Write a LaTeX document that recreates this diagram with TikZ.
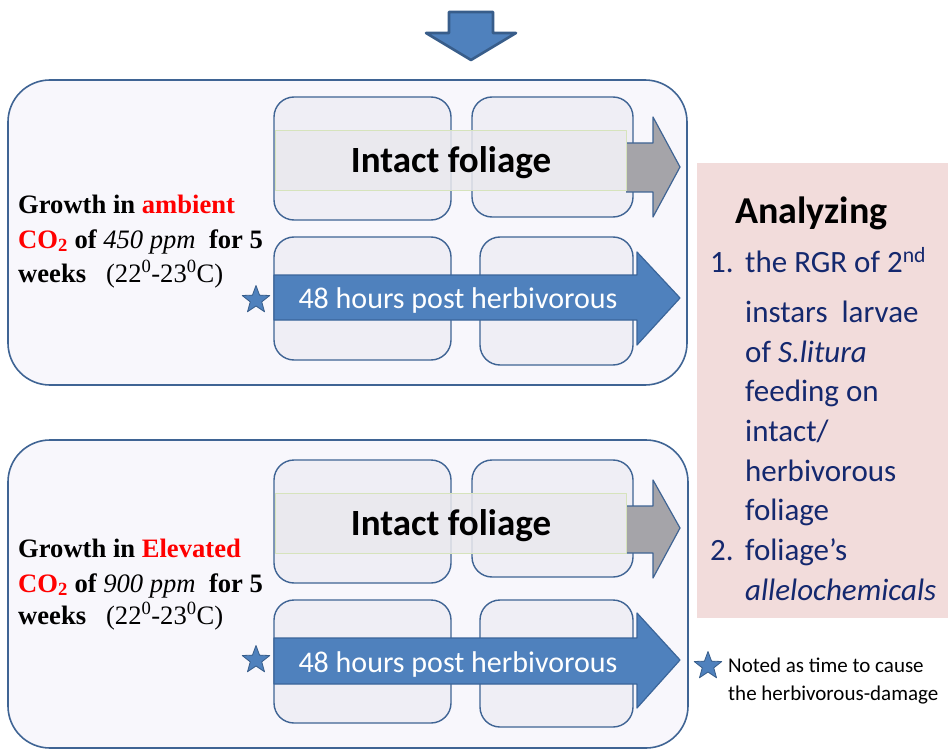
\documentclass[tikz,border=0pt]{standalone}
\usepackage{fontspec}
\setmainfont{Liberation Serif}
\newfontfamily\calibri{Carlito}
\usetikzlibrary{shapes.geometric}

\definecolor{panelline}{HTML}{3F6494}
\definecolor{panelfill}{HTML}{F8F7FC}
\definecolor{cellfill}{HTML}{EFEEF5}
\definecolor{arrowblue}{HTML}{4F81BD}
\definecolor{arrowline}{HTML}{3A659A}
\definecolor{starline}{HTML}{385D8A}
\definecolor{arrowgrey}{HTML}{A5A4A9}
\definecolor{bandfill}{HTML}{EAE9ED}
\definecolor{bandline}{HTML}{D6E3BC}
\definecolor{pinkbox}{HTML}{F2DCDB}
\definecolor{navy}{HTML}{14286E}

\begin{document}
\begin{tikzpicture}[
		x=1pt, y=-1pt,
		line join=round,
		panel/.style={draw=panelline, line width=1.6pt, fill=panelfill, rounded corners=42pt},
		cell/.style={draw=panelline, line width=1.4pt, fill=cellfill, rounded corners=20pt},
		bluearrow/.style={draw=arrowline, line width=1.2pt, fill=arrowblue},
		greyarrow/.style={draw=panelline, line width=1.2pt, fill=arrowgrey},
		band/.style={draw=bandline, fill=bandfill, fill opacity=0.85, line width=0.8pt},
		starmark/.style={star, star points=5, star point ratio=2.4, fill=arrowblue, draw=starline, line width=0.8pt, minimum size=29pt, inner sep=0pt},
		growth/.style={anchor=base west, inner sep=0pt, font=\fontsize{26.6}{35}\selectfont},
		bandtext/.style={anchor=base, inner sep=0pt, font=\calibri\bfseries\fontsize{37}{40}\selectfont},
		arrowtext/.style={anchor=base, inner sep=0pt, text=white, font=\calibri\fontsize{30}{34}\selectfont},
		listline/.style={anchor=base west, inner sep=0pt, text=navy, font=\calibri\fontsize{31}{40}\selectfont},
		legend/.style={anchor=base west, inner sep=0pt, font=\calibri\fontsize{21}{27}\selectfont}
	]
	\useasboundingbox (0,0) rectangle (951,749);

	% Down arrow
	\draw[bluearrow, draw=starline, line width=2.6pt] (449,12) -- (493,12) -- (493,33) -- (516,33)
		-- (471,60) -- (426,33) -- (449,33) -- cycle;

	% Analyzing box
	\fill[pinkbox] (697,163) rectangle (948,618);
	\node[anchor=base west, inner sep=0pt, font=\calibri\bfseries\fontsize{38}{44}\selectfont] (anlz) at (735,223) {Analyzing};
	\node[listline] (num1) at (710,272) {1.};
	\node[listline] (ln1) at (745,272) {the RGR of 2\textsuperscript{nd}};
	\node[listline] (ln2) at (745,322) {instars\ \ larvae};
	\node[listline] (ln3) at (745,362) {of \textit{S.litura}};
	\node[listline] (ln4) at (745,401) {feeding on};
	\node[listline] (ln5) at (745,441) {intact/};
	\node[listline] (ln6) at (745,481) {herbivorous};
	\node[listline] (ln7) at (745,520) {foliage};
	\node[listline] (num2) at (710,560) {2.};
	\node[listline] (ln8) at (745,560) {foliage’s};
	\node[listline] (ln9) at (745,600) {\textit{allelochemicals}};

	% Panels
	\draw[panel] (8,80) rectangle (687,385);
	\draw[panel] (8,440) rectangle (688,748);

	% Ambient CO2
	\node[growth] (amb1) at (18,213) {\bfseries Growth in \textcolor{red}{ambient}};
	\node[growth] (amb2) at (18,248) {\bfseries\textcolor{red}{CO\textsubscript{2}} of \mdseries\textit{450 ppm}\ \ \bfseries for 5};
	\node[growth] (amb3) at (18,282) {\bfseries weeks\ \ \ \mdseries(22\textsuperscript{0}-23\textsuperscript{0}C)};

	% Elevated CO2
	\node[growth] (elv1) at (18,557) {\bfseries Growth in \textcolor{red}{Elevated}};
	\node[growth] (elv2) at (18,592) {\bfseries\textcolor{red}{CO\textsubscript{2}} of \mdseries\textit{900 ppm}\ \ \bfseries for 5};
	\node[growth] (elv3) at (18,624) {\bfseries weeks\ \ \ \mdseries(22\textsuperscript{0}-23\textsuperscript{0}C)};

	% Cells, arrows and labels of each panel
	\begin{scope}
		\draw[cell] (274,97) rectangle (451,220);
		\draw[cell] (472,97) rectangle (633,217);
		\draw[cell] (274,237) rectangle (451,360);
		\draw[cell] (480,237) rectangle (633,365);
		\draw[greyarrow] (626,143) -- (653,143) -- (653,117) -- (680,167) -- (653,217) -- (653,192) -- (626,192);
		\draw[band] (275,130) rectangle (626,190);
		\node[bandtext] (intA) at (451,172) {Intact foliage};
		\draw[bluearrow] (274,275) -- (637,275) -- (637,252) -- (680,298) -- (637,345) -- (637,320) -- (274,320) -- cycle;
		\node[arrowtext] (hrsA) at (458,308) {48 hours post herbivorous};
		\node[starmark] (starA) at (256,300) {};
	\end{scope}
	\begin{scope}[shift={(0,363)}]
		\draw[cell] (274,97) rectangle (451,220);
		\draw[cell] (472,97) rectangle (633,214);
		\draw[cell] (274,237) rectangle (451,360);
		\draw[cell] (480,237) rectangle (633,364);
		\draw[greyarrow] (626,143) -- (653,143) -- (653,117) -- (680,165) -- (653,215) -- (653,190) -- (626,190);
		\draw[band] (275,130) rectangle (626,190);
		\node[bandtext] (intB) at (451,172) {Intact foliage};
		\draw[bluearrow] (274,275) -- (637,275) -- (637,250) -- (680,297) -- (637,345) -- (637,321) -- (274,321) -- cycle;
		\node[arrowtext] (hrsB) at (458,309) {48 hours post herbivorous};
		\node[starmark] (starB) at (256,297) {};
	\end{scope}

	% Legend
	\node[starmark] (starL) at (708,666) {};
	\node[legend] (leg1) at (728,672) {Noted as time to cause};
	\node[legend] (leg2) at (728,700) {the herbivorous-damage};
\end{tikzpicture}
\end{document}
